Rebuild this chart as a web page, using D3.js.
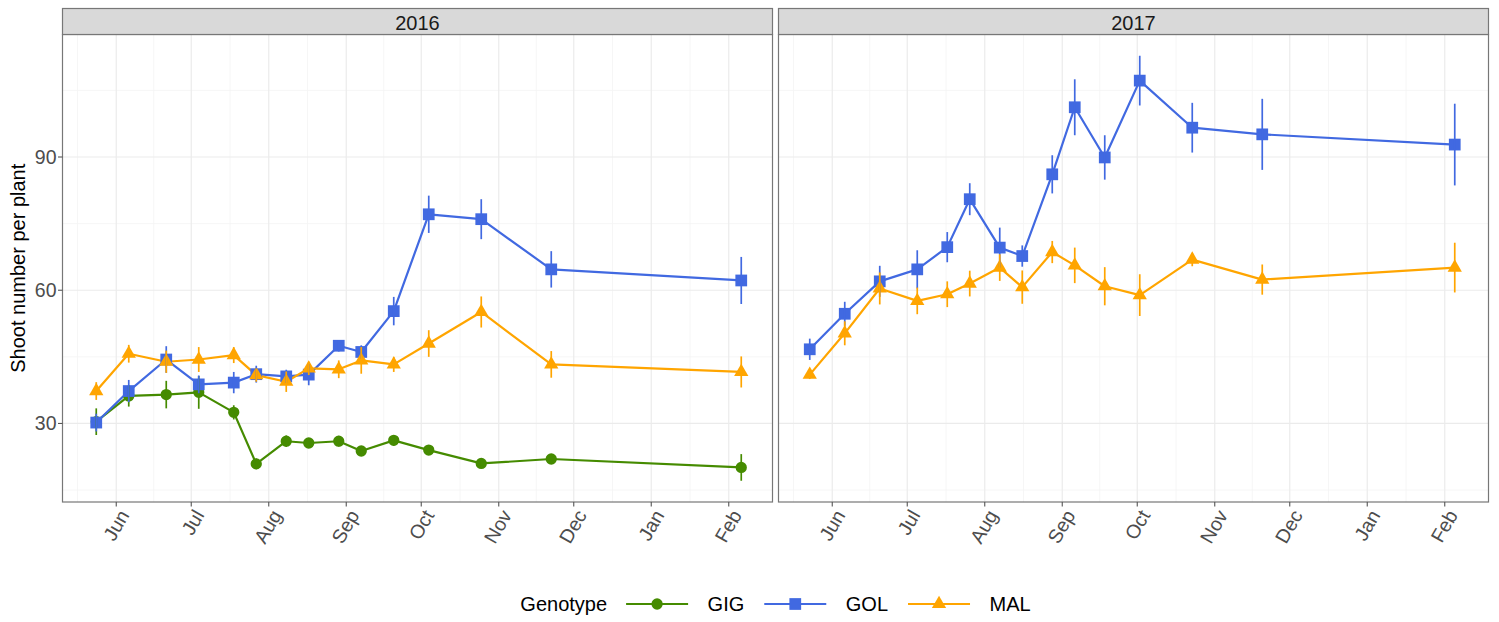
<!DOCTYPE html>
<html>
<head>
<meta charset="utf-8">
<script src="https://cdn.jsdelivr.net/npm/d3@7"></script>
<style>
  body { margin: 0; background: #fff; }
  svg { display: block; }
  text { font-family: "Liberation Sans", Arial, Helvetica, sans-serif; }
</style>
</head>
<body>
<svg id="chart" width="1499" height="622"></svg>
<script>
// ---- data: mean shoot number per plant (± error) by sampling date ----
const years = ["2016", "2017"];
const genotypes = ["GIG", "GOL", "MAL"];

const dates2016 = ["2016-05-24", "2016-06-06", "2016-06-21", "2016-07-04", "2016-07-18",
                   "2016-07-27", "2016-08-08", "2016-08-17", "2016-08-29", "2016-09-07",
                   "2016-09-20", "2016-10-04", "2016-10-25", "2016-11-22", "2017-02-06"];
const gig2016    = [30.4, 36.2, 36.5, 37.0, 32.5, 20.9, 26.0, 25.6, 26.0, 23.8, 26.2, 24.0, 21.0, 22.0, 20.1];
const gig2016Err = [3.0, 2.4, 3.1, 3.7, 1.6, 1.2, 1.3, 1.0, 1.2, 1.0, 1.2, 1.0, 0.8, 1.0, 3.0];
const gol2016    = [30.2, 37.3, 44.4, 38.8, 39.2, 41.1, 40.6, 41.0, 47.5, 46.1, 55.3, 77.1, 76.0, 64.7, 62.2];
const gol2016Err = [2.0, 2.5, 3.0, 2.0, 2.4, 1.9, 1.5, 2.4, 1.3, 1.5, 3.2, 4.2, 4.5, 4.1, 5.3];
const mal2016    = [37.3, 45.7, 43.9, 44.4, 45.4, 40.9, 39.4, 42.4, 42.2, 44.2, 43.3, 48.0, 55.1, 43.3, 41.6];
const mal2016Err = [2.0, 2.0, 2.5, 2.8, 1.8, 1.5, 2.3, 1.5, 2.0, 3.0, 1.7, 3.0, 3.5, 3.0, 3.5];

const dates2017 = ["2017-05-23", "2017-06-06", "2017-06-20", "2017-07-05", "2017-07-17",
                   "2017-07-26", "2017-08-07", "2017-08-16", "2017-08-28", "2017-09-06",
                   "2017-09-18", "2017-10-02", "2017-10-23", "2017-11-20", "2018-02-05"];
const gol2017    = [46.7, 54.7, 62.0, 64.7, 69.7, 80.5, 69.6, 67.7, 86.1, 101.2, 89.9, 107.2, 96.6, 95.1, 92.8];
const gol2017Err = [2.4, 2.7, 3.5, 4.3, 3.4, 3.6, 4.5, 2.4, 4.3, 6.3, 5.0, 5.6, 5.6, 8.0, 9.2];
const mal2017    = [41.0, 50.3, 60.4, 57.6, 59.1, 61.5, 65.1, 60.7, 68.6, 65.6, 60.9, 58.9, 66.9, 62.4, 65.1];
const mal2017Err = [1.0, 2.7, 3.6, 3.0, 2.9, 2.9, 3.0, 3.75, 2.5, 4.0, 4.3, 4.7, 1.5, 3.4, 5.6];

const yTicks = [30, 60, 90];
const yMinorTicks = [15, 45, 75, 105];

const series = [
  { year: "2016", genotype: "GIG", dates: dates2016, mean: gig2016, err: gig2016Err },
  { year: "2016", genotype: "GOL", dates: dates2016, mean: gol2016, err: gol2016Err },
  { year: "2016", genotype: "MAL", dates: dates2016, mean: mal2016, err: mal2016Err },
  { year: "2017", genotype: "GOL", dates: dates2017, mean: gol2017, err: gol2017Err },
  { year: "2017", genotype: "MAL", dates: dates2017, mean: mal2017, err: mal2017Err }
];

// ---- layout ----
const svg = d3.select("#chart");
const panelLeft = [62.5, 778.5];
const panelW = 710;
const stripTop = 8.5, panelTop = 34.5, panelBottom = 502;
const tickColor = "#4d4d4d", borderColor = "#777";

const parse = d3.utcParse("%Y-%m-%d");
// Each season is shifted onto a common 2016/17 calendar so both facets share the axis
const toSeason = (d, year) => d3.utcYear.offset(parse(d), -(+year - +years[0]));

const rows = series.map(s => ({
  ...s,
  points: s.dates.map((d, i) => ({ date: toSeason(d, s.year), mean: s.mean[i], err: s.err[i] }))
}));

// shared y scale with 5% expansion over the error-bar range
const allLo = d3.min(rows, r => d3.min(r.points, p => p.mean - p.err));
const allHi = d3.max(rows, r => d3.max(r.points, p => p.mean + p.err));
const pad = (allHi - allLo) * 0.05;
const y = d3.scaleLinear().domain([allLo - pad, allHi + pad]).range([panelBottom, panelTop]);

// shared x scale (season calendar)
const xDomain = [parse("2016-05-10"), parse("2017-02-18")];
xDomain[0] = d3.utcHour.offset(xDomain[0], 12);
xDomain[1] = d3.utcHour.offset(xDomain[1], 12);

const color = d3.scaleOrdinal().domain(genotypes).range(["#458B00", "#4169E1", "#FFA500"]);
const symbolType = d3.scaleOrdinal().domain(genotypes)
  .range([d3.symbolCircle, d3.symbolSquare, d3.symbolTriangle]);
const symbolSize = d3.scaleOrdinal().domain(genotypes).range([100, 138, 88]);
const symbol = g => d3.symbol().type(symbolType(g)).size(symbolSize(g))();

const monthFmt = d3.utcFormat("%b");

years.forEach((year, pi) => {
  const x0 = panelLeft[pi];
  const x = d3.scaleUtc().domain(xDomain).range([x0, x0 + panelW]);
  const majors = d3.utcMonth.range(d3.utcMonth.ceil(xDomain[0]), xDomain[1]);
  const monthStarts = d3.utcMonth.range(d3.utcMonth.floor(xDomain[0]), d3.utcMonth.ceil(xDomain[1]));
  const minors = d3.pairs(monthStarts, (a, b) => new Date((+a + +b) / 2))
    .filter(d => d > xDomain[0] && d < majors[majors.length - 1]);

  const g = svg.append("g");

  // panel background and grid
  g.append("rect").attr("x", x0).attr("y", panelTop).attr("width", panelW)
    .attr("height", panelBottom - panelTop).attr("fill", "#fff");

  g.selectAll(".ymin").data(yMinorTicks).join("line")
    .attr("x1", x0).attr("x2", x0 + panelW).attr("y1", d => y(d)).attr("y2", d => y(d))
    .attr("stroke", "#f4f4f4").attr("stroke-width", 0.8);
  g.selectAll(".xmin").data(minors).join("line")
    .attr("x1", d => x(d)).attr("x2", d => x(d)).attr("y1", panelTop).attr("y2", panelBottom)
    .attr("stroke", "#f4f4f4").attr("stroke-width", 0.8);
  g.selectAll(".ymaj").data(yTicks).join("line")
    .attr("x1", x0).attr("x2", x0 + panelW).attr("y1", d => y(d)).attr("y2", d => y(d))
    .attr("stroke", "#ebebeb").attr("stroke-width", 1.2);
  g.selectAll(".xmaj").data(majors).join("line")
    .attr("x1", d => x(d)).attr("x2", d => x(d)).attr("y1", panelTop).attr("y2", panelBottom)
    .attr("stroke", "#ebebeb").attr("stroke-width", 1.2);

  const panelRows = rows.filter(r => r.year === year);
  const line = d3.line().x(p => x(p.date)).y(p => y(p.mean));

  // lines
  g.selectAll(".series").data(panelRows).join("path")
    .attr("d", r => line(r.points)).attr("fill", "none")
    .attr("stroke", r => color(r.genotype)).attr("stroke-width", 2.2)
    .attr("stroke-linejoin", "round");

  // points
  panelRows.forEach(r => {
    g.selectAll(null).data(r.points).join("path")
      .attr("d", symbol(r.genotype))
      .attr("transform", p => `translate(${x(p.date)},${y(p.mean)})`)
      .attr("fill", color(r.genotype));
  });

  // error bars
  panelRows.forEach(r => {
    g.selectAll(null).data(r.points).join("line")
      .attr("x1", p => x(p.date)).attr("x2", p => x(p.date))
      .attr("y1", p => y(p.mean - p.err)).attr("y2", p => y(p.mean + p.err))
      .attr("stroke", color(r.genotype)).attr("stroke-width", 1.7);
  });

  // panel border
  g.append("rect").attr("x", x0).attr("y", panelTop).attr("width", panelW)
    .attr("height", panelBottom - panelTop).attr("fill", "none")
    .attr("stroke", borderColor).attr("stroke-width", 1.2);

  // facet strip
  g.append("rect").attr("x", x0).attr("y", stripTop).attr("width", panelW)
    .attr("height", panelTop - stripTop).attr("fill", "#d9d9d9")
    .attr("stroke", borderColor).attr("stroke-width", 1.2);
  g.append("text").attr("x", x0 + panelW / 2).attr("y", 29.5)
    .attr("text-anchor", "middle").attr("font-size", 20).attr("fill", "#1a1a1a").text(year);

  // x axis ticks and rotated month labels
  g.selectAll(".xt").data(majors).join("line")
    .attr("x1", d => x(d)).attr("x2", d => x(d)).attr("y1", panelBottom).attr("y2", panelBottom + 4.5)
    .attr("stroke", "#555").attr("stroke-width", 1.1);
  g.selectAll(".xl").data(majors).join("text")
    .attr("transform", d => `translate(${x(d) + 13.7},${panelBottom + 13}) rotate(-60)`)
    .attr("text-anchor", "end").attr("font-size", 19.5).attr("fill", tickColor)
    .text(d => monthFmt(d));

  // y axis only on the first facet
  if (pi === 0) {
    g.selectAll(".yt").data(yTicks).join("line")
      .attr("x1", x0 - 4.5).attr("x2", x0).attr("y1", d => y(d)).attr("y2", d => y(d))
      .attr("stroke", "#555").attr("stroke-width", 1.1);
    g.selectAll(".yl").data(yTicks).join("text")
      .attr("x", x0 - 6).attr("y", d => y(d) + 7)
      .attr("text-anchor", "end").attr("font-size", 19.5).attr("fill", tickColor)
      .text(d => d);
  }
});

// y axis title
svg.append("text")
  .attr("transform", `translate(25,${(panelTop + panelBottom) / 2}) rotate(-90)`)
  .attr("text-anchor", "middle").attr("font-size", 20).attr("fill", "#000")
  .text("Shoot number per plant");

// ---- legend ----
const legend = svg.append("g");
const legendY = 604;
const keyW = 62;
const title = legend.append("text").attr("y", legendY + 7).attr("font-size", 20)
  .attr("fill", "#000").text("Genotype");
let cx = title.node().getComputedTextLength() + 19;
const items = genotypes.map(gt => {
  const item = legend.append("g").attr("transform", `translate(${cx},0)`);
  item.append("line").attr("x1", 0).attr("x2", keyW).attr("y1", legendY).attr("y2", legendY)
    .attr("stroke", color(gt)).attr("stroke-width", 2.2);
  item.append("path").attr("d", symbol(gt))
    .attr("transform", `translate(${keyW / 2},${legendY})`).attr("fill", color(gt));
  const t = item.append("text").attr("x", keyW + 19.5).attr("y", legendY + 7)
    .attr("font-size", 20).attr("fill", "#000").text(gt);
  cx += keyW + 19.5 + t.node().getComputedTextLength() + 20;
  return item;
});
const legendW = cx - 20;
const center = (panelLeft[0] + panelLeft[1] + panelW) / 2;
legend.attr("transform", `translate(${center - legendW / 2},0)`);
</script>
</body>
</html>
